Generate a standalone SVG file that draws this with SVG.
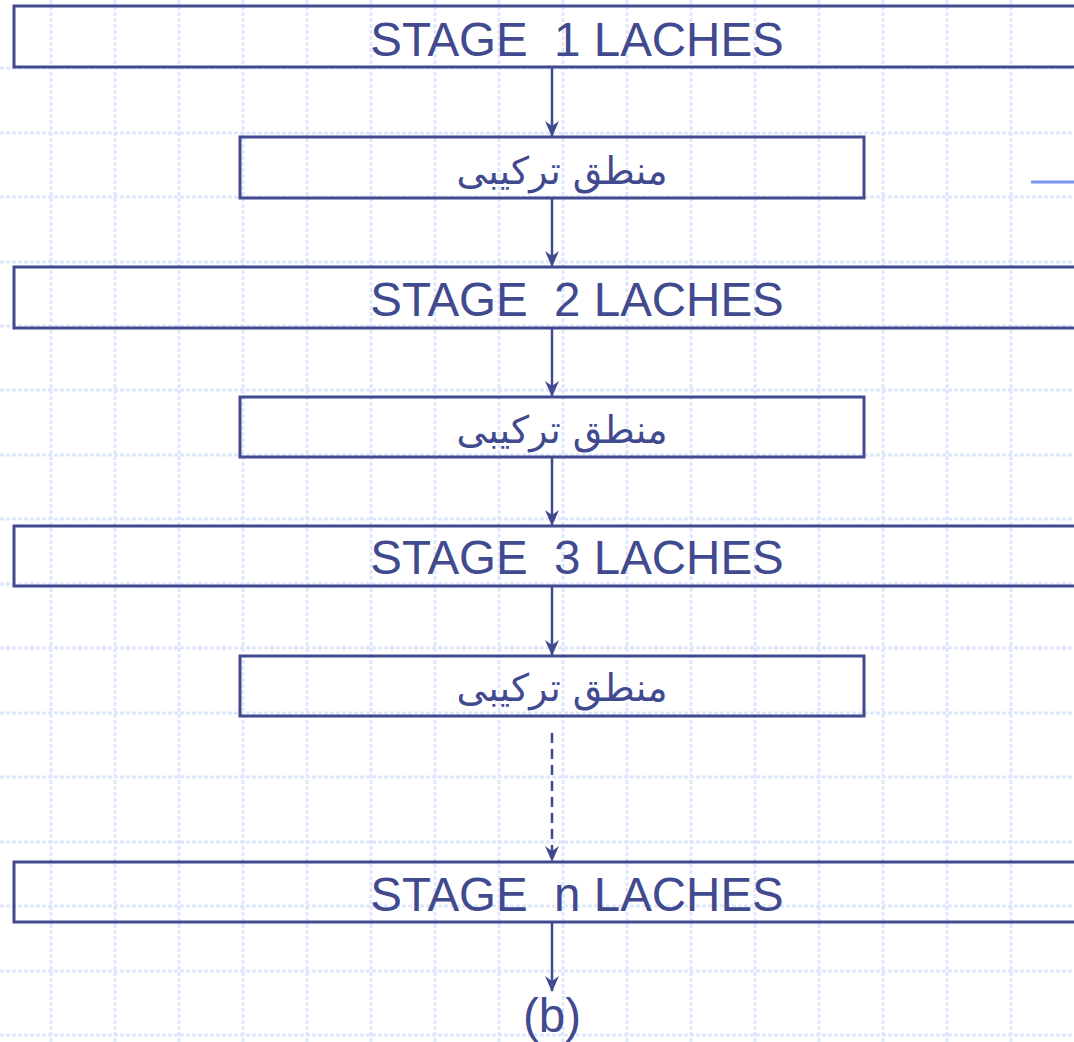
<svg xmlns="http://www.w3.org/2000/svg" width="1074" height="1042" viewBox="0 0 1074 1042">
<defs>
<style>
.grid line{stroke:#dfe7fc;stroke-width:3;stroke-dasharray:4 2}
.box{fill:none;stroke:#414a8f;stroke-width:3}
.lbl{font-family:"Liberation Sans",Arial,sans-serif;font-size:47.5px;fill:#414a8f;text-anchor:middle;white-space:pre}
.ar{font-family:"DejaVu Sans","Noto Sans",sans-serif;font-size:38px;fill:#414a8f;text-anchor:middle}
.conn line{stroke:#414a8f;stroke-width:2.5;marker-end:url(#ah)}
</style>
<marker id="ah" viewBox="0 0 16 14" refX="15" refY="7" markerWidth="16" markerHeight="14" markerUnits="userSpaceOnUse" orient="auto">
<path d="M0,0 L16,7 L0,14 L5,7 Z" fill="#414a8f"/>
</marker>
</defs>
<rect width="1074" height="1042" fill="#ffffff"/>
<g class="grid">
<line x1="51" y1="0" x2="51" y2="1042"/><line x1="115" y1="0" x2="115" y2="1042"/><line x1="179" y1="0" x2="179" y2="1042"/><line x1="243" y1="0" x2="243" y2="1042"/><line x1="307" y1="0" x2="307" y2="1042"/><line x1="371" y1="0" x2="371" y2="1042"/><line x1="435" y1="0" x2="435" y2="1042"/><line x1="499" y1="0" x2="499" y2="1042"/><line x1="563" y1="0" x2="563" y2="1042"/><line x1="627" y1="0" x2="627" y2="1042"/><line x1="691" y1="0" x2="691" y2="1042"/><line x1="755" y1="0" x2="755" y2="1042"/><line x1="819" y1="0" x2="819" y2="1042"/><line x1="883" y1="0" x2="883" y2="1042"/><line x1="947" y1="0" x2="947" y2="1042"/><line x1="1011" y1="0" x2="1011" y2="1042"/>
<line x1="0" y1="68" x2="1074" y2="68"/><line x1="0" y1="133" x2="1074" y2="133"/><line x1="0" y1="197" x2="1074" y2="197"/><line x1="0" y1="262" x2="1074" y2="262"/><line x1="0" y1="326" x2="1074" y2="326"/><line x1="0" y1="390" x2="1074" y2="390"/><line x1="0" y1="455" x2="1074" y2="455"/><line x1="0" y1="519" x2="1074" y2="519"/><line x1="0" y1="584" x2="1074" y2="584"/><line x1="0" y1="648" x2="1074" y2="648"/><line x1="0" y1="713" x2="1074" y2="713"/><line x1="0" y1="777" x2="1074" y2="777"/><line x1="0" y1="842" x2="1074" y2="842"/><line x1="0" y1="906" x2="1074" y2="906"/><line x1="0" y1="971" x2="1074" y2="971"/><line x1="0" y1="1035" x2="1074" y2="1035"/>
</g>
<line x1="1031" y1="182" x2="1074" y2="182" stroke="#7b96f0" stroke-width="3"/>
<g class="conn">
<line x1="552" y1="67" x2="552" y2="136"/>
<line x1="552" y1="198" x2="552" y2="266"/>
<line x1="552" y1="328" x2="552" y2="396"/>
<line x1="552" y1="457" x2="552" y2="525"/>
<line x1="552" y1="586" x2="552" y2="655"/>
<line x1="552" y1="733" x2="552" y2="861" stroke-dasharray="10 6"/>
<line x1="552" y1="922" x2="552" y2="991"/>
</g>
<g id="stage1"><rect class="box" x="14" y="6" width="1080" height="61"/><text class="lbl" x="577" y="56" xml:space="preserve">STAGE  1 LACHES</text></g>
<g id="logic1"><rect class="box" x="240" y="137" width="624" height="61"/><text class="ar" x="562" y="184" direction="rtl">منطق ترکیبی</text></g>
<g id="stage2"><rect class="box" x="14" y="267" width="1080" height="61"/><text class="lbl" x="577" y="316" xml:space="preserve">STAGE  2 LACHES</text></g>
<g id="logic2"><rect class="box" x="240" y="397" width="624" height="60"/><text class="ar" x="562" y="443" direction="rtl">منطق ترکیبی</text></g>
<g id="stage3"><rect class="box" x="14" y="526" width="1080" height="60"/><text class="lbl" x="577" y="574" xml:space="preserve">STAGE  3 LACHES</text></g>
<g id="logic3"><rect class="box" x="240" y="656" width="624" height="60"/><text class="ar" x="562" y="701" direction="rtl">منطق ترکیبی</text></g>
<g id="stagen"><rect class="box" x="14" y="862" width="1080" height="60"/><text class="lbl" x="577" y="911" xml:space="preserve">STAGE  n LACHES</text></g>
<g id="b"><text class="lbl" x="552" y="1032" font-size="40">(b)</text></g>
</svg>
